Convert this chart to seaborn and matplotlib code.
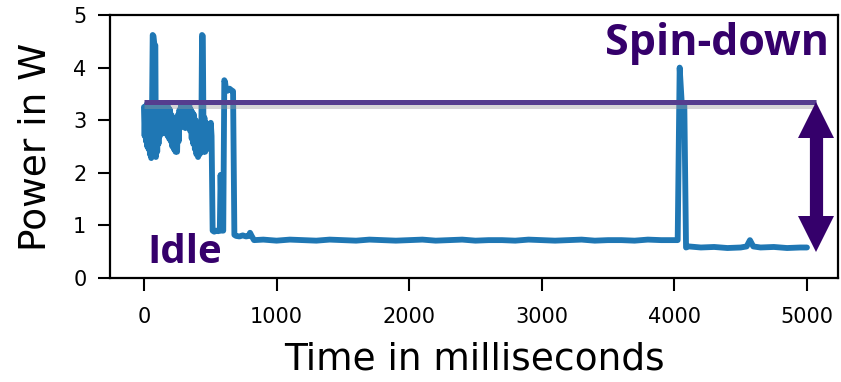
import matplotlib
matplotlib.use("Agg")
import matplotlib.pyplot as plt
import matplotlib.patheffects as pe
import seaborn as sns
import pandas as pd

# power trace (ms, W)
# noisy start-up section
t_start = [0, 5, 10, 15, 20, 25, 30, 35, 40, 45, 50, 55, 60, 66, 72, 78, 86, 90,
           95, 100, 105, 110, 115, 120, 125, 130, 136, 142, 148, 154, 160, 166,
           172, 178, 184, 190, 196, 202, 208, 214, 220, 226, 232, 238, 244, 250,
           256, 262, 268, 274, 280, 288, 294, 300, 306, 312, 318, 324, 330, 336,
           342, 348, 354, 360, 366, 372, 378, 384, 390, 396, 402, 408, 414, 420,
           426, 432, 438, 444, 450, 456, 462, 468, 474, 480, 486, 492, 498, 504, 510]
p_start = [3.25, 2.7, 3.22, 2.6, 3.3, 2.5, 3.15, 2.45, 3.2, 2.35, 3.1, 2.28, 2.9, 4.62, 4.6, 4.45, 4.42, 2.3,
           3.0, 2.4, 3.2, 2.55, 3.25, 2.7, 3.3, 2.8, 3.28, 2.75, 3.25, 2.9, 3.3, 3.1,
           3.28, 2.7, 3.25, 2.65, 3.2, 2.6, 3.1, 2.5, 3.05, 2.45, 3.0, 2.4, 2.95, 2.4,
           3.1, 2.6, 3.2, 2.85, 3.3, 3.2, 3.3, 2.9, 3.28, 2.85, 3.25, 2.9, 3.3, 2.95,
           3.28, 2.8, 3.2, 2.65, 3.15, 2.55, 3.1, 2.45, 3.0, 2.35, 2.9, 2.3, 2.8, 2.35,
           2.9, 2.5, 4.62, 4.6, 2.4, 3.05, 2.4, 2.95, 2.45, 2.9, 2.5, 2.85, 2.6, 2.95, 2.7]

# drop into idle, with the two short wake-ups
t_settle = [518, 530, 545, 560, 572, 578, 588, 598, 606, 612, 618, 630, 645, 660, 672,
            682, 695, 720, 745, 770, 790, 800, 812, 830]
p_settle = [0.9, 0.88, 0.9, 0.89, 0.9, 1.96, 0.9, 0.9, 3.76, 3.72, 3.6, 3.56, 3.6, 3.57, 3.55,
            0.82, 0.8, 0.79, 0.81, 0.79, 0.8, 0.86, 0.8, 0.72]

# long idle stretch
t_idle = [900, 1000, 1100, 1200, 1300, 1400, 1500, 1600, 1700, 1800, 1900, 2000,
          2100, 2200, 2300, 2400, 2500, 2600, 2700, 2800, 2900, 3000, 3100, 3200,
          3300, 3400, 3500, 3600, 3700, 3800, 3900, 4000, 4025]
p_idle = [0.73, 0.71, 0.73, 0.72, 0.71, 0.73, 0.72, 0.71, 0.73, 0.72, 0.71, 0.72,
          0.73, 0.71, 0.72, 0.73, 0.71, 0.72, 0.72, 0.71, 0.73, 0.72, 0.71, 0.72,
          0.73, 0.71, 0.72, 0.72, 0.71, 0.73, 0.72, 0.72, 0.72]

# spin-down burst and the lower state after it
t_spin = [4040, 4055, 4075, 4088, 4110, 4200, 4300, 4400, 4500, 4545, 4570, 4595,
          4650, 4750, 4850, 4950, 5000]
p_spin = [4.0, 3.35, 3.3, 0.58, 0.6, 0.58, 0.59, 0.57, 0.58, 0.6, 0.72, 0.6,
          0.58, 0.59, 0.57, 0.58, 0.58]

time_ms = t_start + t_settle + t_idle + t_spin
power_w = p_start + p_settle + p_idle + p_spin
df = pd.DataFrame({"time": time_ms, "power": power_w})

# annotation levels
SPIN_LEVEL = 3.34
ARROW_T = 5070
ARROW_TOP = 3.01
ARROW_BOT = 0.83

sns.set_style("ticks")
plt.rcParams["font.family"] = ["DejaVu Sans"]
plt.rcParams["text.color"] = "black"
plt.rcParams["axes.labelcolor"] = "black"
plt.rcParams["xtick.color"] = "black"
plt.rcParams["ytick.color"] = "black"

fig = plt.figure(figsize=(8.41, 3.82), dpi=100)
ax = fig.add_axes([110 / 841, 1 - 278 / 382, 728 / 841, 263 / 382])

sns.lineplot(data=df, x="time", y="power", ax=ax, color="#1f77b4", lw=4.2,
             sort=False, estimator=None)

# spin-down power level with a soft shadow
ax.plot([0, ARROW_T], [SPIN_LEVEL, SPIN_LEVEL], color="#553d8e", lw=3.6,
        solid_capstyle="butt",
        path_effects=[pe.SimpleLineShadow(offset=(0, -2.5), shadow_color="0.6", alpha=0.4),
                      pe.Normal()])

# double arrow between idle and spin-down
purple = "#35006b"
ax.plot([ARROW_T, ARROW_T], [ARROW_TOP, ARROW_BOT], color=purple, lw=9.5, solid_capstyle="butt")
ax.plot([ARROW_T], [ARROW_TOP], marker="^", ms=26, color=purple, mew=0)
ax.plot([ARROW_T], [ARROW_BOT], marker="v", ms=26, color=purple, mew=0)

ax.text(4325, 4.24, "Spin-down", color=purple, fontsize=31, fontweight="bold",
        family=["Open Sans", "DejaVu Sans"], ha="center", va="baseline")
ax.text(305, 0.285, "Idle", color=purple, fontsize=29, fontweight="bold",
        family=["Open Sans", "DejaVu Sans"], ha="center", va="baseline")

ax.set_xlim(-256, 5234)
ax.set_ylim(0, 5)
ax.set_xticks([0, 1000, 2000, 3000, 4000, 5000])
ax.set_yticks([0, 1, 2, 3, 4, 5])
ax.set_xlabel("Time in milliseconds", fontsize=27, labelpad=10)
ax.set_ylabel("Power in W", fontsize=27, labelpad=14)
ax.tick_params(axis="both", length=9, width=1.5, color="black")
ax.tick_params(axis="x", labelsize=15, pad=12)
ax.tick_params(axis="y", labelsize=15, pad=8)
for s in ax.spines.values():
    s.set_linewidth(1.6)
    s.set_color("black")

fig.savefig("out.png", dpi=100)
